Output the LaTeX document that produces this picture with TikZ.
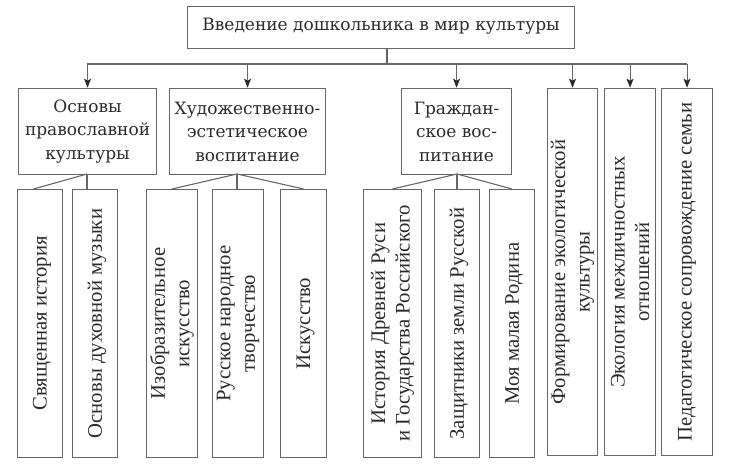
\documentclass[tikz,border=0pt]{standalone}
\usepackage{fontspec}
\setmainfont{Liberation Serif}
\newfontfamily\hfont{DejaVu Serif}
\usetikzlibrary{arrows.meta}
\definecolor{ln}{HTML}{666666}
\definecolor{tx}{HTML}{2B2B2B}
\tikzset{
  box/.style={draw=ln, line width=1.1pt, inner sep=0pt, anchor=north west},
  htext/.style={text=tx, align=center, font=\hfont\fontsize{17}{23.5}\selectfont},
  vtext/.style={text=tx, align=center, rotate=90, font=\fontsize{20.7}{24.5}\selectfont},
  conn/.style={draw=ln, line width=1.1pt},
  arr/.style={conn, -{Stealth[length=9pt,width=7pt,inset=2pt,color=tx]}, shorten >=0.3pt}
}
\begin{document}
\begin{tikzpicture}[x=1pt,y=-1pt]
\useasboundingbox (0,0) rectangle (729,468);
% top
\node[box, minimum width=387, minimum height=42] (T) at (187,6) {};
\node[htext] (Tt) at ([yshift=1pt]T.center) {Введение дошкольника в мир культуры};
% level 2
\node[box, minimum width=138, minimum height=86] (B1) at (18,88) {};
\node[htext] (B1t) at (B1.center) {Основы\\православной\\культуры};
\node[box, minimum width=156, minimum height=86] (B2) at (169,88) {};
\node[htext] (B2t) at (B2.center) {Художественно-\\эстетическое\\воспитание};
\node[box, minimum width=110, minimum height=86] (B3) at (401,88) {};
\node[htext] (B3t) at (B3.center) {Граждан-\\ское вос-\\питание};
\node[box, minimum width=50, minimum height=367] (B4) at (547,88) {};
\node[vtext] (B4t) at (B4.center) {Формирование экологической\\культуры};
\node[box, minimum width=51, minimum height=367] (B5) at (604,88) {};
\node[vtext] (B5t) at (B5.center) {Экология межличностных\\отношений};
\node[box, minimum width=51, minimum height=367] (B6) at (661,88) {};
\node[vtext] (B6t) at (B6.center) {Педагогическое сопровождение семьи};
% level 3
\node[box, minimum width=45, minimum height=268] (L1) at (17,189) {};
\node[vtext] (L1t) at ([xshift=2pt]L1.center) {Священная история};
\node[box, minimum width=45, minimum height=268] (L2) at (72,189) {};
\node[vtext] (L2t) at ([xshift=2pt]L2.center) {Основы духовной музыки};
\node[box, minimum width=51, minimum height=268] (L3) at (146,189) {};
\node[vtext] (L3t) at (L3.center) {Изобразительное\\искусство};
\node[box, minimum width=51, minimum height=268] (L4) at (212,189) {};
\node[vtext] (L4t) at (L4.center) {Русское народное\\творчество};
\node[box, minimum width=46, minimum height=268] (L5) at (280,189) {};
\node[vtext] (L5t) at ([xshift=2pt]L5.center) {Искусство};
\node[box, minimum width=58, minimum height=268] (M1) at (363,189) {};
\node[vtext] (M1t) at (M1.center) {История Древней Руси\\и Государства Российского};
\node[box, minimum width=45, minimum height=268] (M2) at (434,189) {};
\node[vtext] (M2t) at ([xshift=2pt]M2.center) {Защитники земли Русской};
\node[box, minimum width=45, minimum height=268] (M3) at (489,189) {};
\node[vtext] (M3t) at ([xshift=2pt]M3.center) {Моя малая Родина};
% bus
\coordinate (stem) at (387,64);
\coordinate (busL) at (87,64);
\coordinate (busR) at (687,64);
\draw[conn] (stem |- T.south) -- (stem);
\draw[conn] (busL) -- (busR);
\foreach \b in {B1,B2,B3,B4,B5,B6}{
  \draw[arr] (\b.north |- busL) -- (\b.north);
}
% level 3 connectors
\coordinate (s1) at (87,174);
\draw[conn] (s1) -- ([xshift=-6.5pt]L1.north);
\draw[conn] (s1) -- (s1 |- L2.north);
\coordinate (s2) at (237,174);
\draw[conn] (s2) -- (L3.north);
\draw[conn] (s2) -- (s2 |- L4.north);
\draw[conn] (s2) -- (L5.north);
\coordinate (s3) at (457,174);
\draw[conn] (s3) -- (M1.north);
\draw[conn] (s3) -- (s3 |- M2.north);
\draw[conn] (s3) -- (M3.north);
\end{tikzpicture}
\end{document}
